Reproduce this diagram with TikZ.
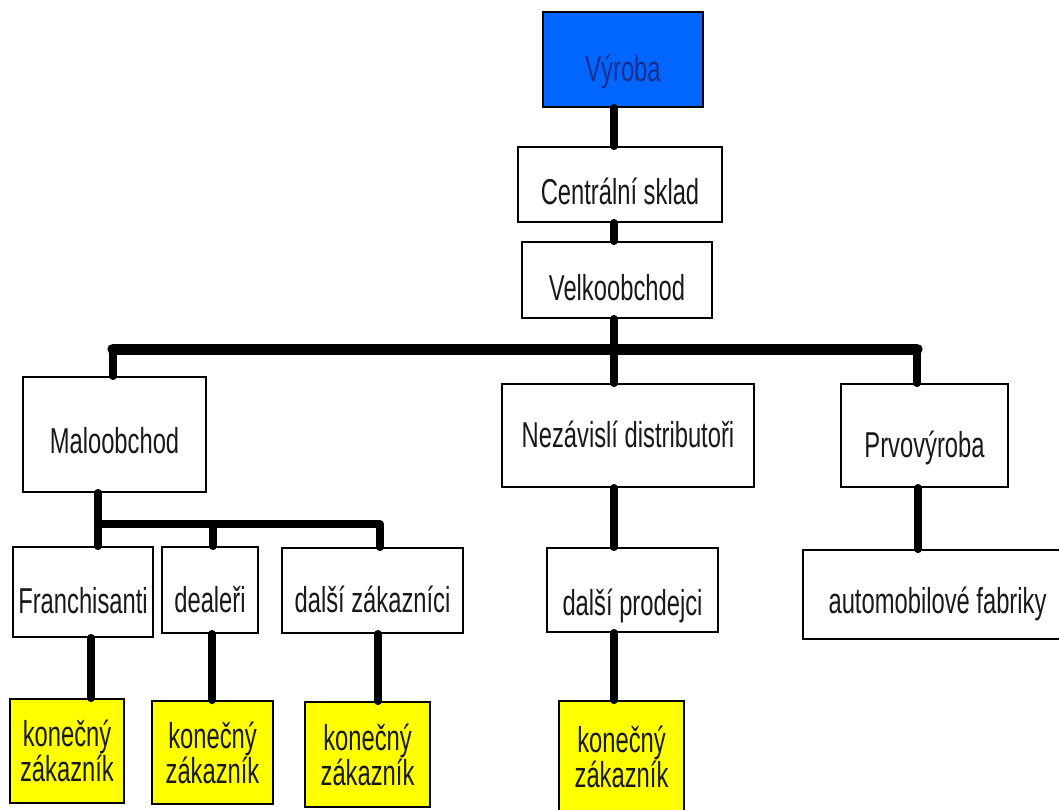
\documentclass[tikz,border=0pt]{standalone}
\usepackage{fontspec}
\setmainfont{Liberation Sans}
\newfontfamily\diagfont[FakeStretch=0.66]{Liberation Sans}
\definecolor{prodblue}{RGB}{0,102,255}
\definecolor{bluetext}{RGB}{25,45,140}
\definecolor{endyellow}{RGB}{255,255,0}
\definecolor{txtgray}{RGB}{25,25,25}
\begin{document}
\begin{tikzpicture}[x=1pt,y=-1pt,
  every node/.style={font=\diagfont\fontsize{36}{32}\selectfont, text=txtgray},
  box/.style={draw=black,line width=1.4pt,fill=white,inner sep=0pt,text depth=0pt},
  endbox/.style={draw=black,line width=1.4pt,fill=endyellow,inner sep=0pt,align=center},
  link/.style={line width=7.5pt,line cap=round,line join=round},
  busline/.style={line width=11pt,line cap=round}]
\fill[white] (0,0) rectangle (1059,809);
\clip (0,0) rectangle (1059,809);

% boxes
\node[box,fill=prodblue,text=bluetext,minimum width=160pt,minimum height=95pt,text height=44pt] (vyroba) at (623,59.5) {Výroba};
\node[box,minimum width=204pt,minimum height=75pt,text height=39pt] (centr) at (620,184.5) {Centrální sklad};
\node[box,minimum width=190pt,minimum height=76pt,text height=40pt] (velko) at (617,280) {Velkoobchod};
\node[box,minimum width=183pt,minimum height=115pt,text height=37pt] (malo) at (114.5,434.5) {Maloobchod};
\node[box,minimum width=252pt,minimum height=103pt,text height=23pt] (nez) at (628,435.5) {Nezávislí distributoři};
\node[box,minimum width=167pt,minimum height=103pt,text height=43pt] (prvo) at (924.5,435.5) {Prvovýroba};
\node[box,minimum width=140pt,minimum height=90pt,text height=42pt] (fran) at (83,592) {Franchisanti};
\node[box,minimum width=96pt,minimum height=86pt,text height=44pt] (deal) at (210,590) {dealeři};
\node[box,minimum width=181pt,minimum height=85pt,text height=43pt] (dalz) at (372.5,590.5) {další zákazníci};
\node[box,minimum width=171pt,minimum height=84pt,text height=50pt] (dalp) at (632.5,590) {další prodejci};
\node[box,minimum width=269pt,minimum height=89pt,text height=37pt] (auto) at (937.5,594.5) {automobilové fabriky};

\node[endbox,minimum width=114pt,minimum height=104pt] (k1) at (67,751) {konečný\\zákazník};
\node[endbox,minimum width=121pt,minimum height=103pt] (k2) at (212.5,752.5) {konečný\\zákazník};
\node[endbox,minimum width=125pt,minimum height=105pt] (k3) at (367.5,754.5) {konečný\\zákazník};
\node[endbox,minimum width=125pt,minimum height=112pt] (k4) at (621.5,757) {konečný\\zákazník};

% coordinates of the connector lines
\coordinate (sp) at (614,0);
\coordinate (busL) at (113,349);
\coordinate (busR) at (917,349);
\coordinate (pa) at (918,0);
\coordinate (subL) at (98,524);
\coordinate (subM) at (213,524);
\coordinate (subR) at (380,524);
\coordinate (f1) at (91,0);
\coordinate (f2) at (212,0);
\coordinate (f3) at (378,0);

% connectors
\draw[link] (vyroba.south -| sp) -- (centr.north -| sp);
\draw[link] (centr.south -| sp) -- (velko.north -| sp);
\draw[link] (velko.south -| sp) -- (nez.north -| sp);
\draw[link] (nez.south -| sp) -- (dalp.north -| sp);
\draw[link] (dalp.south -| sp) -- (k4.north -| sp);

\draw[busline] (busL) -- (busR);
\draw[link] (malo.north -| busL) -- (busL);
\draw[link] (busR) -- (prvo.north -| busR);
\draw[link] (prvo.south -| pa) -- (auto.north -| pa);

\draw[link] (malo.south -| subL) -- (subL) -- (subR) -- (dalz.north -| subR);
\draw[link] (subL) -- (fran.north -| subL);
\draw[link] (subM) -- (deal.north -| subM);

\draw[link] (fran.south -| f1) -- (k1.north -| f1);
\draw[link] (deal.south -| f2) -- (k2.north -| f2);
\draw[link] (dalz.south -| f3) -- (k3.north -| f3);
\end{tikzpicture}
\end{document}
